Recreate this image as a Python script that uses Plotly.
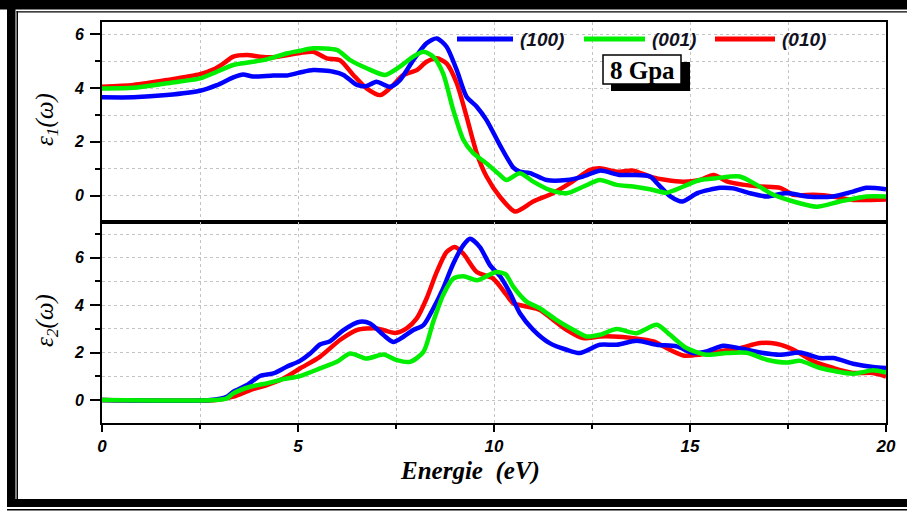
import plotly.graph_objects as go

# ---------------- data ----------------
series_names = ["(100)", "(001)", "(010)"]
series_colors = ["#0000ff", "#00ee00", "#ff0000"]

# epsilon_1 (real part)
x_e1_100 = [0, 0.8, 1.65, 2.5, 2.93, 3.35, 3.6, 3.85, 4.37, 4.71, 5.05, 5.39, 5.9, 6.16, 6.5, 6.75, 7.0, 7.35,
            7.6, 7.94, 8.28, 8.54, 8.79, 9.05, 9.3, 9.56, 9.81, 10.15, 10.5, 10.66, 10.92, 11.34, 11.85, 12.27,
            12.7, 13.2, 13.55, 13.98, 14.2, 14.5, 14.8, 15.2, 15.77, 16.1, 16.5, 16.96, 17.47, 17.98, 18.65,
            19.16, 19.5, 20]
e1_100 = [3.66, 3.66, 3.74, 3.90, 4.11, 4.40, 4.51, 4.43, 4.47, 4.47, 4.58, 4.67, 4.61, 4.49, 4.12, 4.08, 4.24, 4.05,
          4.30, 5.04, 5.67, 5.85, 5.54, 4.67, 3.68, 3.31, 2.81, 1.88, 1.03, 0.89, 0.84, 0.58, 0.58, 0.71,
          0.93, 0.77, 0.77, 0.71, 0.40, -0.03, -0.22, 0.10, 0.29, 0.27, 0.10, -0.03, 0.10, -0.03, -0.03,
          0.15, 0.29, 0.24]

x_e1_001 = [0, 0.8, 1.65, 2.5, 2.93, 3.35, 3.77, 4.2, 4.71, 5.05, 5.39, 5.99, 6.33, 6.75, 7.22, 7.6, 7.94, 8.2,
            8.45, 8.7, 8.96, 9.22, 9.47, 9.81, 10.15, 10.32, 10.66, 11.0, 11.42, 11.85, 12.27, 12.7, 13.13,
            13.55, 13.98, 14.4, 14.83, 15.25, 15.67, 16.27, 16.7, 17.13, 17.64, 18.23, 18.82, 19.5, 20]
e1_001 = [3.99, 4.01, 4.18, 4.36, 4.61, 4.86, 4.96, 5.07, 5.29, 5.39, 5.48, 5.42, 5.04, 4.74, 4.49, 4.80, 5.17, 5.35,
          5.17, 4.55, 3.19, 2.07, 1.58, 1.20, 0.77, 0.58, 0.83, 0.52, 0.21, 0.09, 0.33, 0.58, 0.40,
          0.34, 0.24, 0.11, 0.34, 0.58, 0.65, 0.71, 0.40, 0.03, -0.22, -0.41, -0.22, -0.03, -0.03]

x_e1_010 = [0, 0.8, 1.65, 2.5, 2.85, 3.1, 3.35, 3.7, 4.03, 4.37, 5.05, 5.39, 5.73, 6.07, 6.41, 6.75, 7.1, 7.35,
            7.69, 8.03, 8.28, 8.54, 8.79, 9.05, 9.3, 9.56, 9.81, 10.15, 10.54, 11.0, 11.5, 12.0, 12.45, 12.7,
            13.13, 13.55, 13.98, 14.4, 14.83, 15.25, 15.6, 15.96, 16.38, 16.8, 17.3, 17.64, 18.15, 18.65,
            19.16, 20]
e1_010 = [4.05, 4.12, 4.30, 4.52, 4.70, 4.92, 5.17, 5.23, 5.17, 5.15, 5.31, 5.35, 5.11, 5.04, 4.49, 3.99, 3.74, 4.00,
          4.49, 4.67, 4.98, 5.11, 4.92, 4.18, 2.94, 1.58, 0.71, -0.04, -0.59, -0.22, 0.09, 0.52, 0.96, 1.02,
          0.89, 0.93, 0.71, 0.58, 0.52, 0.58, 0.77, 0.52, 0.40, 0.34, 0.29, 0.03, 0.03, -0.03,
          -0.16, -0.14]

# epsilon_2 (imaginary part)
x_e2_100 = [0, 2.76, 3.18, 3.35, 3.7, 4.03, 4.37, 4.71, 5.05, 5.31, 5.56, 5.82, 6.16, 6.58, 6.84, 7.18, 7.43,
            7.69, 7.94, 8.2, 8.45, 8.7, 8.96, 9.22, 9.39, 9.64, 9.9, 10.15, 10.41, 10.66, 11.0, 11.42, 11.85,
            12.19, 12.7, 13.13, 13.64, 14.15, 14.66, 15.08, 15.42, 15.85, 16.36, 16.79, 17.3, 17.81, 18.32,
            18.66, 19.16, 19.67, 20]
e2_100 = [0, 0, 0.14, 0.35, 0.63, 1.01, 1.12, 1.40, 1.65, 1.96, 2.34, 2.48, 2.95, 3.30, 3.23, 2.74, 2.45,
          2.67, 2.95, 3.16, 3.86, 4.70, 5.75, 6.53, 6.80, 6.45, 5.68, 5.23, 4.51, 3.66, 2.96, 2.40, 2.12,
          1.98, 2.33, 2.33, 2.50, 2.33, 2.26, 1.98, 2.05, 2.29, 2.15, 2.00, 1.91, 2.00, 1.77,
          1.77, 1.53, 1.39, 1.35]

x_e2_001 = [0, 2.9, 3.18, 3.35, 3.78, 4.2, 4.63, 5.05, 5.56, 5.99, 6.33, 6.75, 7.18, 7.52, 7.86, 8.2, 8.45, 8.7,
            8.96, 9.22, 9.56, 9.81, 10.06, 10.3, 10.49, 10.83, 11.17, 11.59, 12.02, 12.36, 12.7, 13.13, 13.64,
            14.15, 14.49, 14.91, 15.42, 15.93, 16.44, 16.96, 17.47, 17.81, 18.32, 19.16, 19.67, 20]
e2_001 = [0, 0, 0.07, 0.28, 0.56, 0.70, 0.88, 1.01, 1.33, 1.61, 1.96, 1.75, 1.92, 1.68, 1.61, 2.03, 3.30, 4.42,
          5.12, 5.22, 5.05, 5.22, 5.40, 5.30, 4.78, 4.15, 3.87, 3.38, 2.96, 2.68, 2.75, 2.99, 2.82,
          3.17, 2.75, 2.19, 1.91, 1.98, 1.99, 1.70, 1.58, 1.65, 1.35, 1.11, 1.25, 1.16]

x_e2_010 = [0, 2.9, 3.35, 3.78, 4.2, 4.63, 5.05, 5.56, 6.07, 6.5, 7.01, 7.48, 7.77, 8.03, 8.28, 8.54, 8.79, 9.0,
            9.22, 9.56, 9.98, 10.32, 10.49, 10.83, 11.17, 11.51, 11.85, 12.27, 12.7, 13.04, 13.55, 14.07, 14.4,
            14.83, 15.25, 15.76, 16.27, 16.79, 17.2, 17.64, 18.15, 18.66, 19.16, 19.67, 20]
e2_010 = [0, 0, 0.14, 0.42, 0.63, 0.91, 1.33, 1.82, 2.53, 2.95, 3.02, 2.83, 3.02, 3.44, 4.28, 5.40, 6.24, 6.45,
          6.17, 5.40, 5.12, 4.43, 4.08, 3.94, 3.80, 3.38, 2.96, 2.61, 2.68, 2.68, 2.61, 2.47, 2.19,
          1.88, 1.91, 2.05, 2.19, 2.40, 2.37, 2.12, 1.63, 1.35, 1.14, 1.14, 0.99]

x_ticks = [0, 5, 10, 15, 20]
y_ticks = [0, 2, 4, 6]
pressure_label = "8 Gpa"
x_title = "Energie\u00a0\u00a0(eV)"
y1_title = "ε<sub>1</sub>(ω)"
y2_title = "ε<sub>2</sub>(ω)"

# ---------------- layout helpers (pixel -> paper) ----------------
W, H = 907, 512
ML, MR, MT, MB = 102, 21, 22, 89
PW, PH = W - ML - MR, H - MT - MB


def px(x):
    return (x - ML) / PW


def py(y):
    return (H - MB - y) / PH


split = py(221.7)

fig = go.Figure()

top = {"(100)": (x_e1_100, e1_100), "(001)": (x_e1_001, e1_001), "(010)": (x_e1_010, e1_010)}
bot = {"(100)": (x_e2_100, e2_100), "(001)": (x_e2_001, e2_001), "(010)": (x_e2_010, e2_010)}
color_of = dict(zip(series_names, series_colors))
draw_order = ["(010)", "(100)", "(001)"]

for name in draw_order:
    xs, ys = top[name]
    fig.add_trace(go.Scatter(x=xs, y=ys, mode="lines", name=name, showlegend=False,
                             line=dict(color=color_of[name], width=4.5, shape="spline", smoothing=0.7),
                             xaxis="x", yaxis="y"))
for name in draw_order:
    xs, ys = bot[name]
    fig.add_trace(go.Scatter(x=xs, y=ys, mode="lines", name=name, showlegend=False,
                             line=dict(color=color_of[name], width=4.5, shape="spline", smoothing=0.7),
                             xaxis="x2", yaxis="y2"))

tickfont = dict(family="Liberation Sans", size=16, color="black", weight="bold", style="italic")
grid = dict(showgrid=True, gridcolor="#c4c4c4", gridwidth=1, griddash="dot")

common_x = dict(range=[0, 20], dtick=5, tick0=0, showline=True, linecolor="black", linewidth=2,
                mirror=True, zeroline=False, **grid)
fig.update_layout(
    xaxis=dict(domain=[0, 1], anchor="y", showticklabels=False, ticks="",
               minor=dict(dtick=2.5, showgrid=True, gridcolor="#c4c4c4", griddash="dot"), **common_x),
    xaxis2=dict(domain=[0, 1], anchor="y2", matches="x", tickvals=x_ticks, ticks="outside", ticklen=7,
                tickwidth=2, tickcolor="black", tickfont=dict(tickfont, size=17), ticklabelstandoff=0,
                minor=dict(dtick=2.5, ticks="outside", ticklen=4, tickwidth=2, tickcolor="black",
                           showgrid=True, gridcolor="#c4c4c4", griddash="dot"),
                **common_x),
    yaxis=dict(domain=[split, 1], anchor="x", range=[-0.97, 6.46], tickvals=y_ticks, ticks="outside",
               ticklen=10, tickwidth=2, tickcolor="black", tickfont=tickfont, showline=True,
               linecolor="black", linewidth=2, mirror=True, zeroline=False, ticklabelstandoff=3,
               minor=dict(dtick=1, tick0=0, ticks="outside", ticklen=5, tickwidth=2, tickcolor="black",
                          showgrid=True, gridcolor="#c4c4c4", griddash="dot"), **grid),
    yaxis2=dict(domain=[0, split], anchor="x2", range=[-0.97, 7.52], tickvals=y_ticks, ticks="outside",
                ticklen=10, tickwidth=2, tickcolor="black", tickfont=tickfont, showline=True,
                linecolor="black", linewidth=2, mirror=True, zeroline=False, ticklabelstandoff=3,
                minor=dict(dtick=1, tick0=-1, ticks="outside", ticklen=5, tickwidth=2, tickcolor="black",
                           showgrid=True, gridcolor="#c4c4c4", griddash="dot"), **grid),
    width=W, height=H, margin=dict(l=ML, r=MR, t=MT, b=MB, pad=0),
    paper_bgcolor="white", plot_bgcolor="white", showlegend=False,
)

shapes = []
annotations = []

# legend drawn at top of upper panel
leg_lines = [(457, 513), (584, 645), (715, 775)]
leg_y = 39
for name, (x0, x1) in zip(series_names, leg_lines):
    shapes.append(dict(type="line", xref="paper", yref="paper", x0=px(x0), x1=px(x1), y0=py(leg_y), y1=py(leg_y),
                       line=dict(color=color_of[name], width=5)))
    annotations.append(dict(xref="paper", yref="paper", x=px(x1 + 5), y=py(leg_y), xanchor="left",
                            yanchor="middle", showarrow=False, text=name,
                            font=dict(family="Liberation Sans", size=19, color="#111122",
                                      weight="bold", style="italic")))

# pressure label box with shadow
shapes.append(dict(type="rect", xref="paper", yref="paper", x0=px(611), x1=px(690), y0=py(62), y1=py(91),
                   fillcolor="black", line=dict(width=0)))
shapes.append(dict(type="rect", xref="paper", yref="paper", x0=px(603), x1=px(681), y0=py(55), y1=py(84),
                   fillcolor="white", line=dict(color="black", width=1.5)))
annotations.append(dict(xref="paper", yref="paper", x=px(642), y=py(70), xanchor="center", yanchor="middle",
                        showarrow=False, text=pressure_label,
                        font=dict(family="Liberation Serif", size=25, color="black", weight="bold")))

# axis titles
annotations.append(dict(xref="paper", yref="paper", x=px(470), y=py(471), xanchor="center", yanchor="middle",
                        showarrow=False, text="<i>" + x_title + "</i>",
                        font=dict(family="Liberation Serif", size=25, color="black", weight="bold")))
annotations.append(dict(xref="paper", yref="paper", x=px(46), y=py(120), xanchor="center", yanchor="middle",
                        showarrow=False, textangle=-90, text="<i>" + y1_title + "</i>",
                        font=dict(family="Liberation Serif", size=25, color="black")))
annotations.append(dict(xref="paper", yref="paper", x=px(46), y=py(321), xanchor="center", yanchor="middle",
                        showarrow=False, textangle=-90, text="<i>" + y2_title + "</i>",
                        font=dict(family="Liberation Serif", size=25, color="black")))


# outer decorative frame
def rect(x0, y0, x1, y1):
    shapes.append(dict(type="rect", xref="paper", yref="paper", x0=px(x0), x1=px(x1), y0=py(y0), y1=py(y1),
                       fillcolor="black", line=dict(width=0), layer="above"))


rect(0, 0, 907, 9.5)      # top band
rect(7, 0, 15.5, 507)     # left band
rect(7, 499, 907, 507)    # bottom band
rect(16.5, 11, 18, 499)   # inner thin left line
rect(16.5, 11.3, 907, 12.6)  # inner thin top line
rect(7, 509, 907, 510.5)  # outer thin bottom line

fig.update_layout(shapes=shapes, annotations=annotations)
fig.write_html("out.html", config={"displayModeBar": False},
               post_script="document.body.style.margin='0px';document.body.style.overflow='hidden';")
